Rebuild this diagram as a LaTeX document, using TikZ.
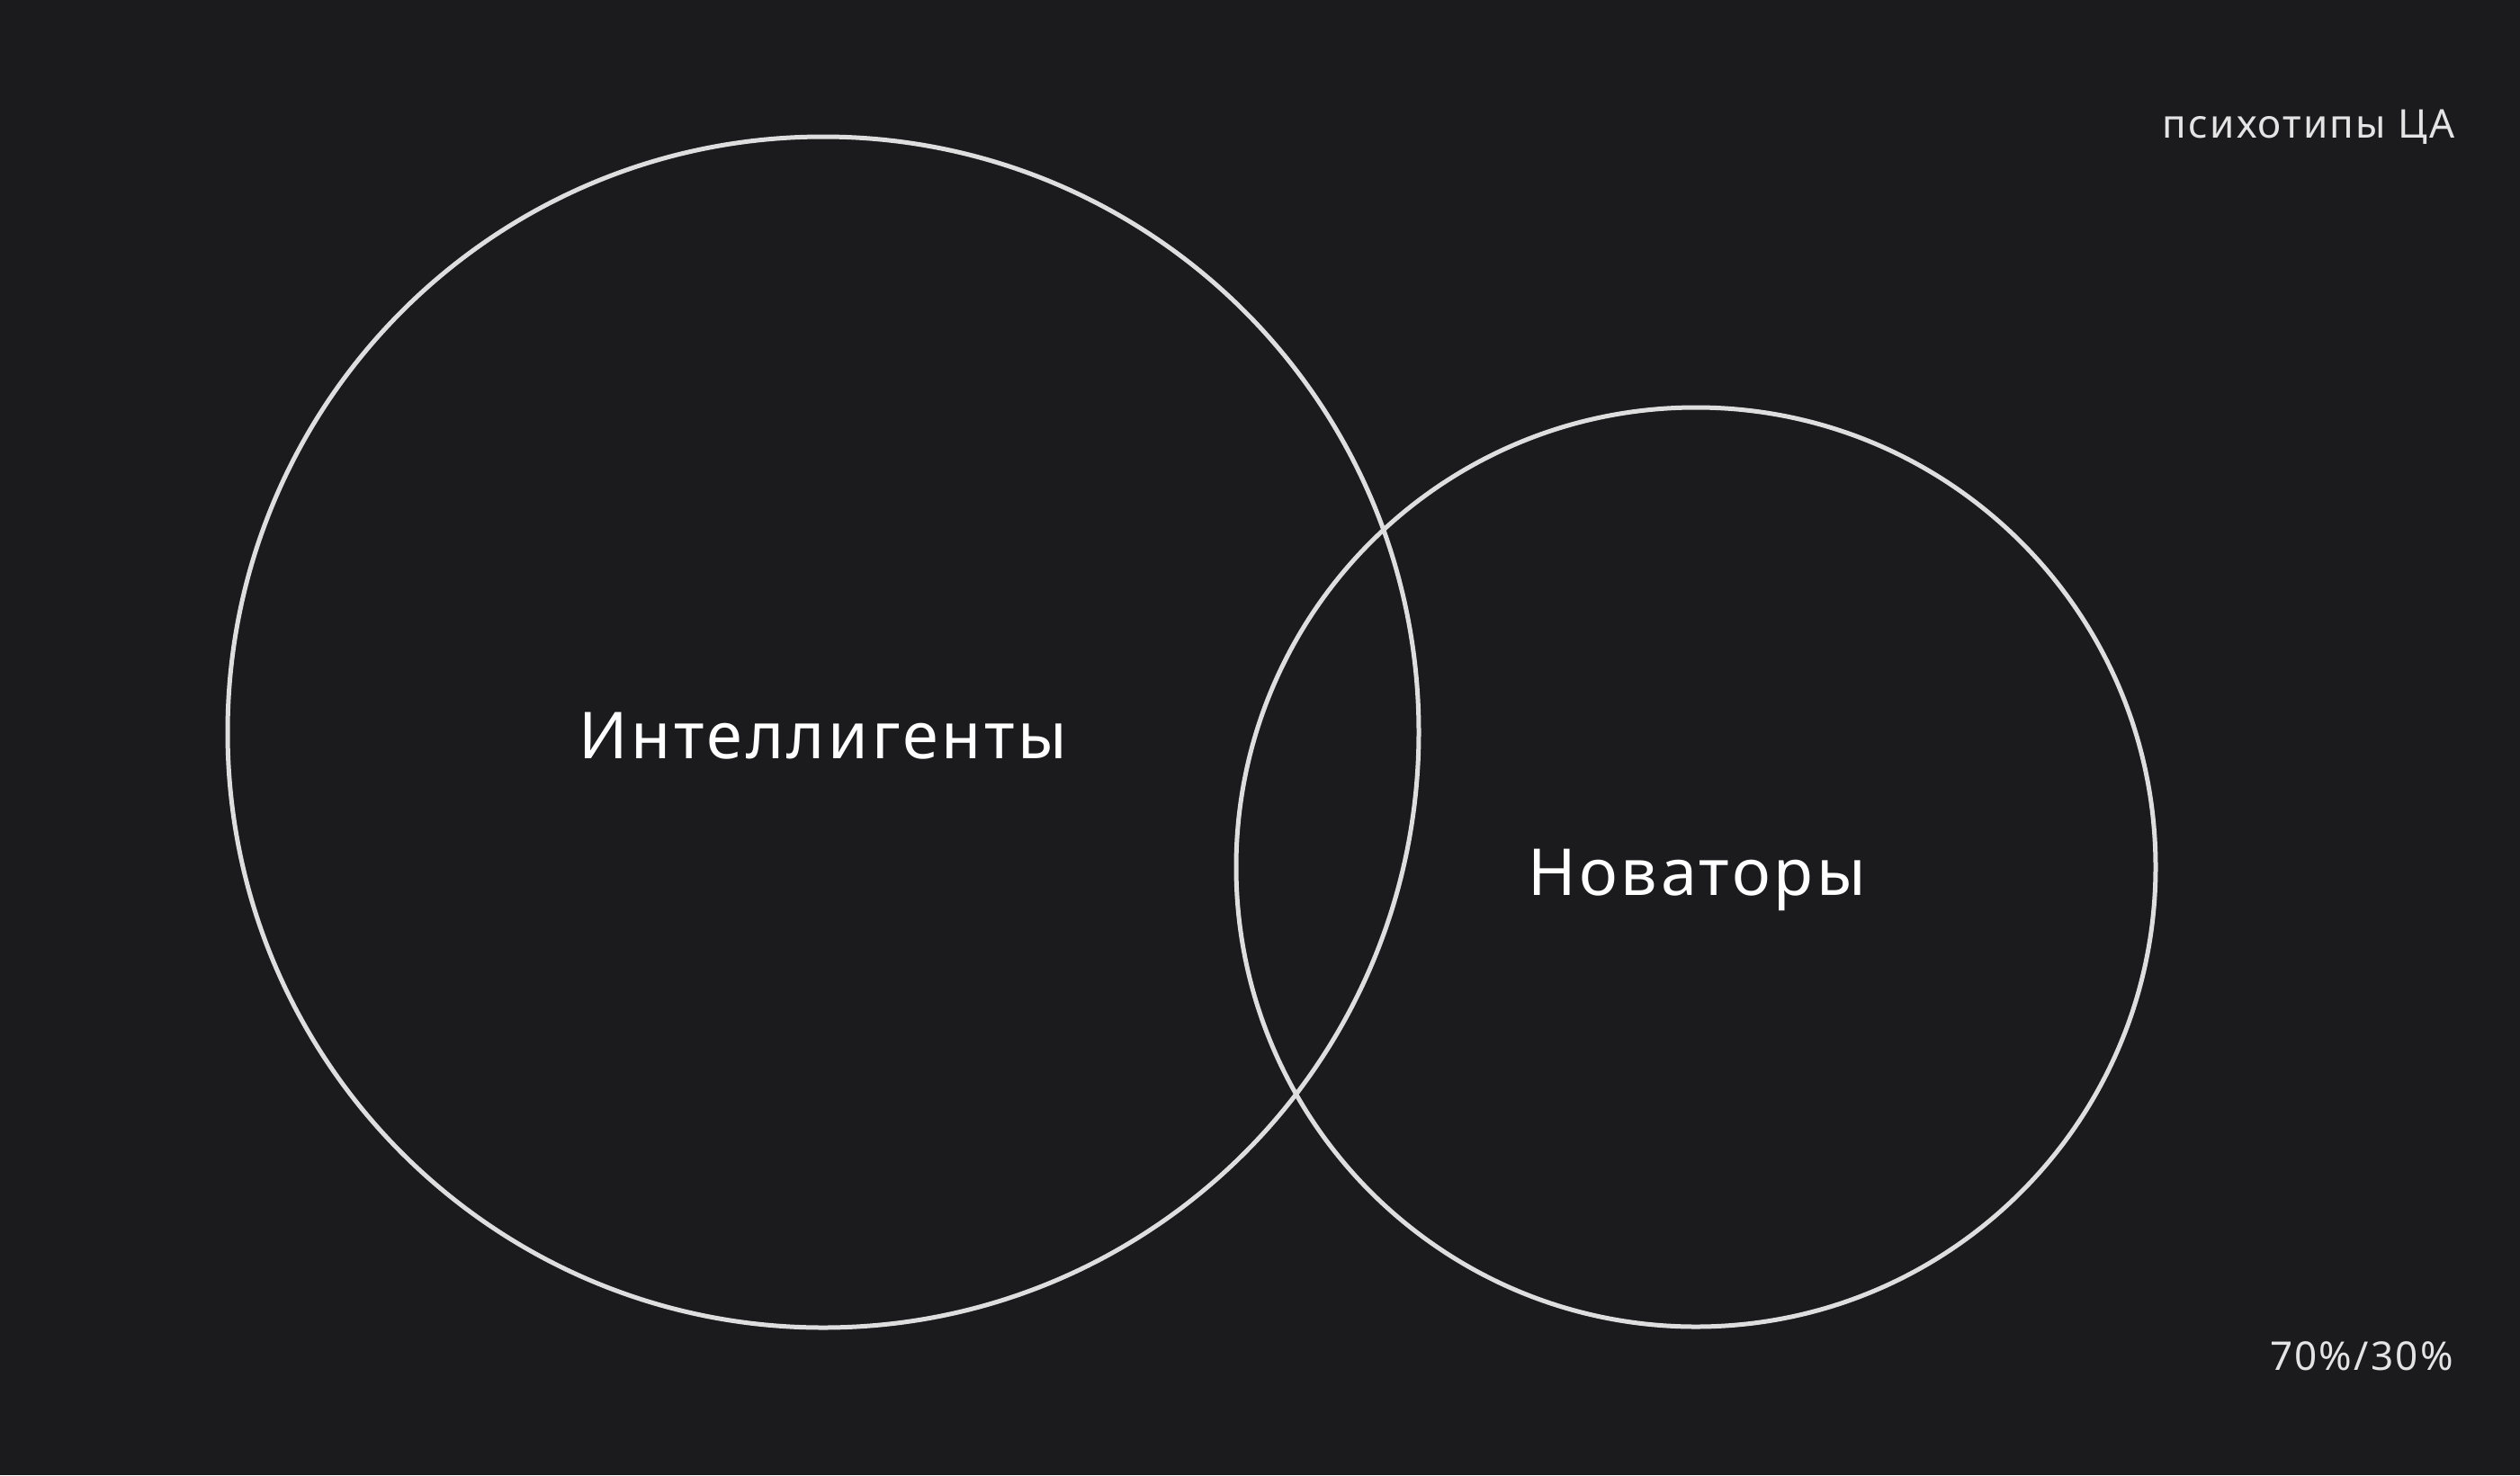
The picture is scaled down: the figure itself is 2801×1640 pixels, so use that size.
\documentclass[tikz,border=0pt]{standalone}
\usepackage{fontspec}
\setmainfont{Noto Sans}
\newfontfamily\spacedfont[LetterSpace=5]{Noto Sans}
\definecolor{bg}{HTML}{1B1B1E}
\definecolor{ring}{HTML}{DEDEDE}
\definecolor{smalltxt}{HTML}{E4E4E4}
\begin{document}
\begin{tikzpicture}[x=0.5pt,y=-0.5pt,
  ringstyle/.style={draw=ring,line width=2.5pt},
  biglabel/.style={inner sep=0pt,text=white,font=\spacedfont\fontsize{36}{40}\selectfont,anchor=base},
  smalllabel/.style={inner sep=0pt,text=smalltxt,font=\spacedfont\fontsize{22}{26}\selectfont,anchor=base east}]
\fill[bg] (0,0) rectangle (2801,1640);
\useasboundingbox (0,0) rectangle (2801,1640);
\coordinate (c1) at (915,814);
\coordinate (c2) at (1885,964);
\draw[ringstyle] (c1) circle[radius=331pt];
\draw[ringstyle] (c2) circle[radius=255.5pt];
\node[biglabel] (intel) at (915,843) {Интеллигенты};
\node[biglabel] (novat) at (1886,995) {Новаторы};
\node[smalllabel] (psy) at (2729,153) {психотипы ЦА};
\node[smalllabel] (pct) at (2727,1523) {70\%/30\%};
\end{tikzpicture}
\end{document}
